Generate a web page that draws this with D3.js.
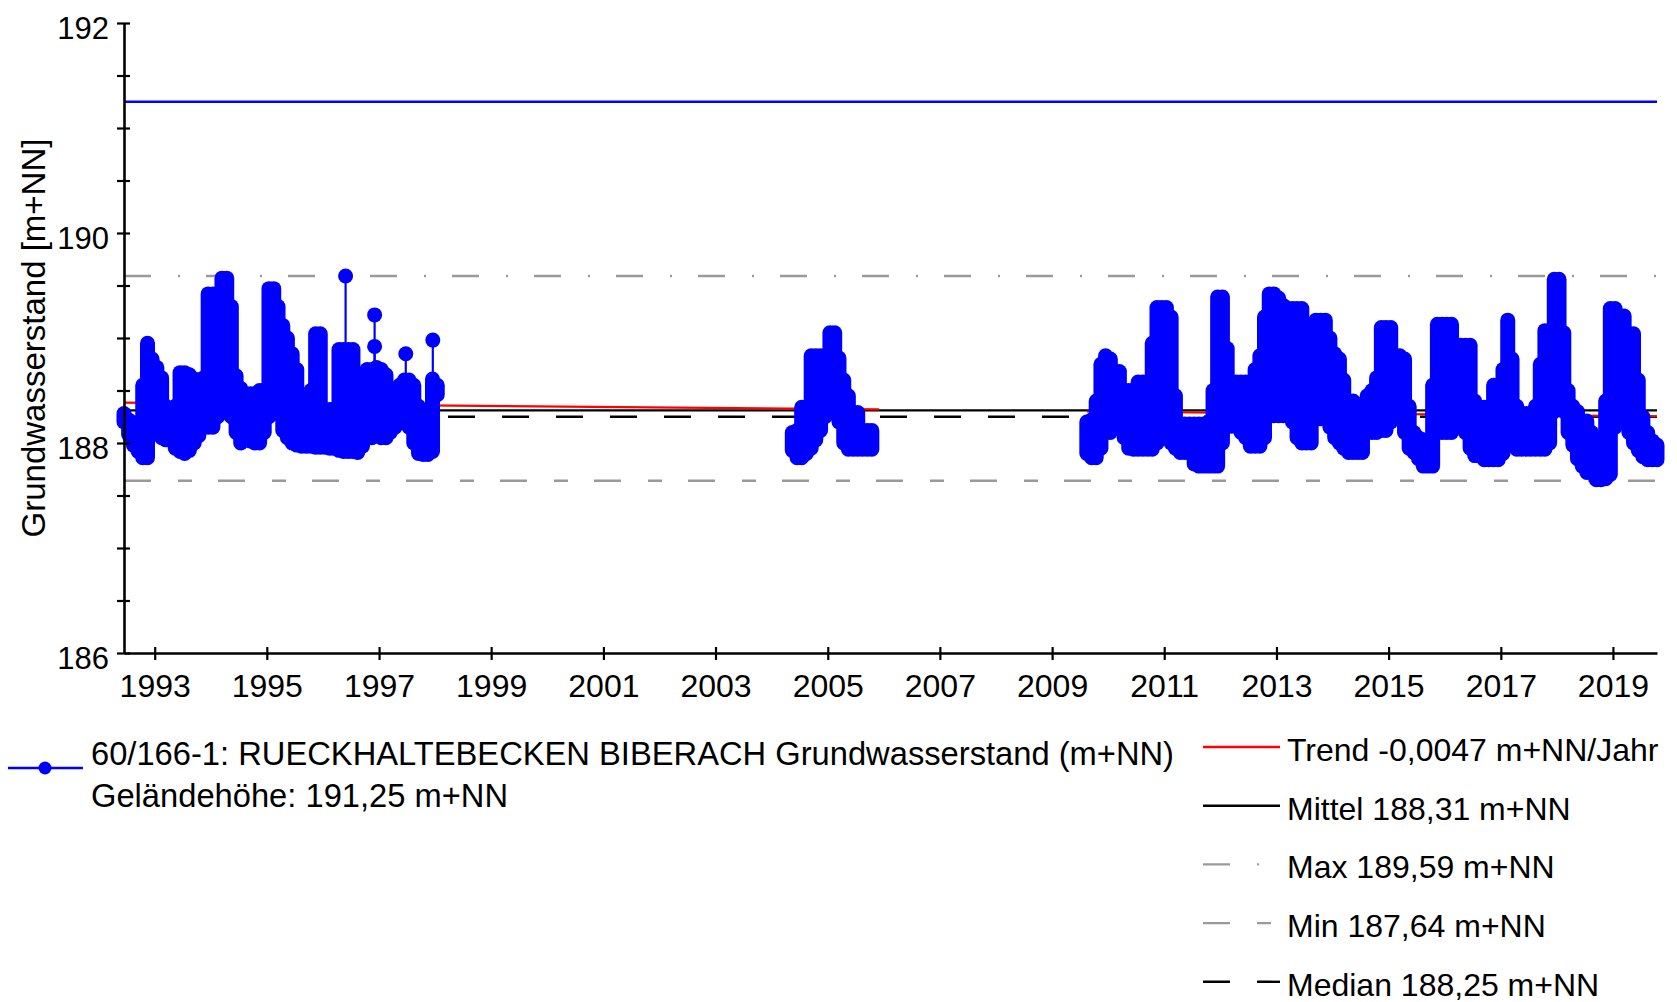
<!DOCTYPE html>
<html>
<head>
<meta charset="utf-8">
<script src="https://cdn.jsdelivr.net/npm/d3@7"></script>
<style>
    body { margin: 0; background: #fff; }
    svg { display: block; }
    text { font-family: "Liberation Sans", Arial, sans-serif; fill: #000; }
</style>
</head>
<body>
<svg id="chart" width="1677" height="1002"></svg>
<script>
// first month of each measuring period
const segmentStarts = ['1992-06', '2004-05', '2009-08'];

// monthly lowest / highest groundwater level (m+NN), one value per month
const low1992 = [
    188.20, 188.08, 187.98, 187.92, 187.86, 187.86, 188.15,
    188.15, 188.05, 188.03, 188.03, 187.95, 187.92, 187.90, 187.93, 188.00, 188.07, 188.15, 188.15,
    188.15, 188.25, 188.34, 188.34, 188.25, 188.10, 188.00, 188.03, 188.02, 188.00, 188.00, 188.10,
    188.25, 188.35, 188.28, 188.12, 188.05, 188.00, 187.98, 187.97, 187.97, 187.97, 187.96, 187.96,
    187.96, 187.95, 187.95, 187.93, 187.92, 187.92, 187.92, 187.91, 187.97, 188.05, 188.05, 188.07,
    188.05, 188.05, 188.10, 188.15, 188.20, 188.20, 188.15, 188.00, 187.90, 187.89, 187.89, 187.92,
    188.46
];
const high1992 = [
    188.28, 188.22, 188.15, 188.10, 188.55, 188.95, 188.80,
    188.72, 188.62, 188.35, 188.30, 188.35, 188.67, 188.67, 188.65, 188.61, 188.60, 188.62, 189.42,
    189.42, 189.42, 189.57, 189.57, 189.30, 188.64, 188.52, 188.47, 188.47, 188.47, 188.50, 188.50,
    189.47, 189.47, 189.30, 189.12, 189.00, 188.85, 188.70, 188.45, 188.45, 188.50, 189.04, 189.04,
    188.32, 188.32, 188.32, 188.89, 188.89, 188.89, 188.89, 188.40, 188.65, 188.70, 188.70, 188.72,
    188.70, 188.65, 188.50, 188.45, 188.55, 188.60, 188.60, 188.55, 188.35, 188.25, 188.20, 188.61,
    188.55
];
const low2004 = [
    187.93, 187.86, 187.86, 187.90, 187.95, 188.03, 188.12, 188.25,
    188.29, 188.29, 188.20, 188.00, 187.94, 187.94, 187.94, 187.94, 187.94, 187.94
];
const high2004 = [
    188.10, 188.12, 188.34, 188.34, 188.83, 188.83, 188.83, 188.83,
    189.05, 189.05, 188.81, 188.60, 188.45, 188.29, 188.29, 188.12, 188.12, 188.12
];
const low2009 = [
    187.90, 187.86, 187.86, 187.95, 188.10,
    188.10, 188.23, 188.23, 188.05, 187.95, 187.94, 187.94, 187.94, 187.94, 187.94, 188.00, 188.10,
    188.15, 188.00, 187.95, 187.91, 187.91, 187.91, 187.80, 187.78, 187.78, 187.78, 187.78, 187.78,
    188.00, 188.16, 188.16, 188.16, 188.10, 188.05, 187.97, 187.97, 187.97, 188.05, 188.26, 188.26,
    188.26, 188.26, 188.26, 188.20, 188.05, 188.00, 188.00, 188.00, 188.23, 188.23, 188.23, 188.15,
    188.05, 188.00, 187.95, 187.91, 187.91, 187.91, 187.91, 188.10, 188.10, 188.10, 188.12, 188.12,
    188.20, 188.25, 188.25, 188.10, 187.95, 187.91, 187.85, 187.78, 187.78, 187.78, 188.10, 188.10,
    188.10, 188.10, 188.32, 188.25, 188.10, 187.95, 187.88, 187.88, 187.84, 187.84, 187.84, 187.84,
    187.90, 188.00, 188.10, 187.94, 187.94, 187.94, 187.94, 187.94, 187.94, 187.94, 188.00, 188.30,
    188.40, 188.30, 188.10, 187.98, 187.85, 187.78, 187.72, 187.72, 187.65, 187.65, 187.66, 187.70,
    188.15, 188.20, 188.20, 188.10, 188.00, 187.93, 187.87, 187.84, 187.84, 187.84
];
const high2009 = [
    188.20, 188.22, 188.40, 188.75, 188.83,
    188.80, 188.68, 188.68, 188.50, 188.50, 188.50, 188.58, 188.58, 188.58, 188.95, 189.29, 189.29,
    189.29, 189.20, 188.45, 188.18, 188.18, 188.18, 188.18, 188.18, 188.18, 188.20, 188.50, 189.39,
    189.39, 188.90, 188.50, 188.58, 188.58, 188.58, 188.50, 188.70, 188.83, 189.20, 189.42, 189.42,
    189.38, 189.31, 189.28, 189.28, 189.28, 189.28, 188.72, 188.90, 189.17, 189.17, 189.17, 189.00,
    188.85, 188.80, 188.60, 188.40, 188.40, 188.37, 188.30, 188.45, 188.50, 188.62, 189.10, 189.10,
    189.10, 188.83, 188.83, 188.80, 188.35, 188.10, 188.05, 188.03, 188.03, 188.55, 189.13, 189.13,
    189.13, 189.13, 188.93, 188.93, 188.93, 188.93, 188.40, 188.20, 188.34, 188.34, 188.55, 188.45,
    188.70, 189.17, 188.80, 188.35, 188.28, 188.28, 188.28, 188.35, 188.75, 189.07, 189.07, 189.56,
    189.56, 189.05, 188.50, 188.35, 188.30, 188.21, 188.21, 188.10, 187.95, 187.98, 188.40, 189.28,
    189.28, 189.21, 189.21, 189.04, 189.04, 188.60, 188.25, 188.10, 188.02, 187.98
];

// single readings standing out above the monthly band
const spikeDates = ['1996-05-28', '1996-12-03', '1996-12-03', '1997-06-24', '1997-12-17'];
const spikeValues = [189.59, 189.22, 188.92, 188.85, 188.98];

// statistics
const groundLevel = 191.25;
const meanLevel = 188.31;
const maxLevel = 189.59;
const minLevel = 187.64;
const medianLevel = 188.25;
const trendPerYear = -0.0047;
const trendFrom = ['1992-06-15', '2009-08-15'];
const trendTo = ['2005-12-01', '2019-10-15'];
const trendStartValues = [188.384, 188.30];
const trendEndValues = [188.32, 188.255];

const xTickYears = [1993, 1995, 1997, 1999, 2001, 2003, 2005, 2007, 2009, 2011, 2013, 2015, 2017, 2019];
const yTickValues = [186, 186.5, 187, 187.5, 188, 188.5, 189, 189.5, 190, 190.5, 191, 191.5, 192];
const yLabelValues = [186, 188, 190, 192];

const stationName = '60/166-1: RUECKHALTEBECKEN BIBERACH Grundwasserstand (m+NN)';
const yTitle = 'Grundwasserstand [m+NN]';

const de = d3.formatLocale({decimal: ',', thousands: '.', grouping: [3], currency: ['', ' €'], minus: '-'});
const fmt2 = de.format('.2f');
const fmt4 = de.format('.4f');

const svg = d3.select('#chart');
const blue = '#0000ff';
const grey = '#9a9a9a';
const font = '"Liberation Sans", Arial, sans-serif';

const parseMonth = d3.timeParse('%Y-%m');
const parseDay = d3.timeParse('%Y-%m-%d');

// build one reading per month (middle of month)
const readings = [];
[[low1992, high1992], [low2004, high2004], [low2009, high2009]].forEach(([lo, hi], s) => {
    const start = parseMonth(segmentStarts[s]);
    lo.forEach((v, i) => {
        readings.push({
            date: d3.timeDay.offset(d3.timeMonth.offset(start, i), 14),
            low: v,
            high: hi[i]
        });
    });
});

const x = d3.scaleTime()
    .domain(d3.extent(readings, (d) => d.date))
    .range([124, 1657]);
const y = d3.scaleLinear()
    .domain([186, 192])
    .range([653, 23]);

// reference lines
const refLines = [
    {value: groundLevel, color: blue, dash: null, width: 2.4},
    {value: maxLevel, color: grey, dash: '27,27,2,26', width: 2.6},
    {value: minLevel, color: grey, dash: '27,27,14,26', width: 2.6},
    {value: medianLevel, color: '#000', dash: '27,27', width: 2.6},
    {value: meanLevel, color: '#000', dash: null, width: 2.2}
];
svg.append('g').selectAll('line')
    .data(refLines)
    .join('line')
    .attr('x1', x.range()[0])
    .attr('x2', x.range()[1])
    .attr('y1', (d) => y(d.value))
    .attr('y2', (d) => y(d.value))
    .attr('stroke', (d) => d.color)
    .attr('stroke-width', (d) => d.width)
    .attr('stroke-dasharray', (d) => d.dash);

// trend
svg.append('g').selectAll('line')
    .data(trendFrom.map((f, i) => ({from: parseDay(f), to: parseDay(trendTo[i]), v0: trendStartValues[i], v1: trendEndValues[i]})))
    .join('line')
    .attr('x1', (d) => x(d.from))
    .attr('x2', (d) => x(d.to))
    .attr('y1', (d) => y(d.v0))
    .attr('y2', (d) => y(d.v1))
    .attr('stroke', '#ff0000')
    .attr('stroke-width', 2.2);

// measurements: each month drawn as a band of overlapping markers
const series = svg.append('g');
series.selectAll('line.month')
    .data(readings)
    .join('line')
    .attr('class', 'month')
    .attr('x1', (d) => x(d.date))
    .attr('x2', (d) => x(d.date))
    .attr('y1', (d) => y(d.low))
    .attr('y2', (d) => y(d.high))
    .attr('stroke', blue)
    .attr('stroke-width', 15)
    .attr('stroke-linecap', 'round');

const spikes = spikeDates.map((s, i) => {
    const date = parseDay(s);
    const near = d3.least(readings, (r) => Math.abs(r.date - date));
    return {date, value: spikeValues[i], base: near.high};
});
series.selectAll('line.spike')
    .data(spikes)
    .join('line')
    .attr('class', 'spike')
    .attr('x1', (d) => x(d.date))
    .attr('x2', (d) => x(d.date))
    .attr('y1', (d) => y(d.value))
    .attr('y2', (d) => y(d.base))
    .attr('stroke', blue)
    .attr('stroke-width', 2.2);
series.selectAll('circle')
    .data(spikes)
    .join('circle')
    .attr('cx', (d) => x(d.date))
    .attr('cy', (d) => y(d.value))
    .attr('r', 7.5)
    .attr('fill', blue);

// axes
const yAxis = svg.append('g')
    .attr('transform', `translate(${x.range()[0]},0)`)
    .call(d3.axisLeft(y).tickValues(yTickValues).tickSizeOuter(0)
        .tickFormat((d) => yLabelValues.includes(d) ? d : ''));
yAxis.selectAll('.tick line').attr('x1', 6).attr('x2', -7).attr('stroke-width', 2.2);
yAxis.selectAll('.tick text')
    .attr('x', -15)
    .attr('dy', null)
    .attr('y', 15)
    .style('font-size', '31px')
    .style('font-family', font);
yAxis.select('.domain').attr('stroke-width', 2.6);

const xAxis = svg.append('g')
    .attr('transform', `translate(0,${y.range()[0]})`)
    .call(d3.axisBottom(x)
        .tickValues(xTickYears.map((yr) => new Date(yr, 0, 1)))
        .tickFormat(d3.timeFormat('%Y'))
        .tickSizeOuter(0));
xAxis.selectAll('.tick line').attr('y1', -6).attr('y2', 7).attr('stroke-width', 2.2);
xAxis.selectAll('.tick text')
    .attr('y', 44)
    .attr('dy', null)
    .style('font-size', '32px')
    .style('font-family', font);
xAxis.select('.domain').attr('stroke-width', 2.6);

svg.append('text')
    .attr('transform', 'translate(45,338) rotate(-90)')
    .attr('text-anchor', 'middle')
    .style('font-size', '33px')
    .text(yTitle);

// legend, left part
const legendLeft = svg.append('g');
legendLeft.append('line')
    .attr('x1', 8).attr('x2', 83)
    .attr('y1', 768).attr('y2', 768)
    .attr('stroke', blue).attr('stroke-width', 2.4);
legendLeft.append('circle')
    .attr('cx', 45).attr('cy', 768).attr('r', 6.5)
    .attr('fill', blue);
legendLeft.append('text')
    .attr('x', 91).attr('y', 765)
    .style('font-size', '32.7px')
    .text(stationName);
legendLeft.append('text')
    .attr('x', 91).attr('y', 807)
    .style('font-size', '32.7px')
    .text(`Geländehöhe: ${fmt2(groundLevel)} m+NN`);

// legend, right part
const legendItems = [
    {label: `Trend ${fmt4(trendPerYear)} m+NN/Jahr`, color: '#ff0000', dash: null},
    {label: `Mittel ${fmt2(meanLevel)} m+NN`, color: '#000', dash: null},
    {label: `Max ${fmt2(maxLevel)} m+NN`, color: grey, dash: '27,27,2,26'},
    {label: `Min ${fmt2(minLevel)} m+NN`, color: grey, dash: '27,27,14,26'},
    {label: `Median ${fmt2(medianLevel)} m+NN`, color: '#000', dash: '27,27'}
];
const legendRight = svg.append('g')
    .selectAll('g')
    .data(legendItems)
    .join('g')
    .attr('transform', (d, i) => `translate(1203,${747 + i * 58.7})`);
legendRight.append('line')
    .attr('x1', 0).attr('x2', 77)
    .attr('stroke', (d) => d.color)
    .attr('stroke-width', 2.4)
    .attr('stroke-dasharray', (d) => d.dash);
legendRight.append('text')
    .attr('x', 84)
    .attr('y', 14)
    .style('font-size', '32px')
    .text((d) => d.label);
</script>
</body>
</html>
